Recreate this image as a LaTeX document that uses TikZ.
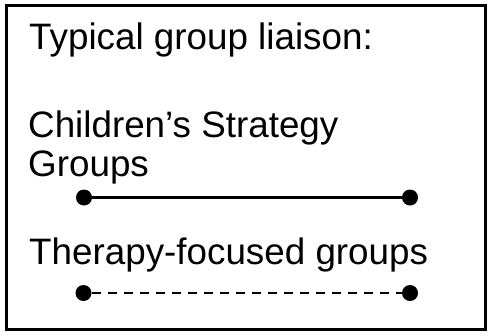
\documentclass[tikz,border=0pt]{standalone}
\usepackage{fontspec}
\setmainfont{Liberation Sans}
\begin{document}
\begin{tikzpicture}[x=1pt,y=-1pt,
  lbl/.style={anchor=base west,inner sep=0pt,align=left,
    font=\fontsize{36.8pt}{39pt}\selectfont},
  dot/.style={circle,fill=black,inner sep=0pt,minimum size=16pt},
  link/.style={line width=2.2pt},
  framebox/.style={line width=2.5pt}]
\useasboundingbox (0,0) rectangle (494,335);
\draw[framebox] (6.5,5.5) rectangle (485.5,329.5);
\node[lbl] (title) at (29,49) {Typical group liaison:};
\node[lbl] (cs) at (28,176) {Children’s Strategy\\Groups};
\node[dot] (a1) at (84,197.5) {};
\node[dot] (b1) at (410,197.5) {};
\draw[link] (a1) -- (b1);
\node[lbl] (tf) at (29,264) {Therapy-focused groups};
\node[dot] (a2) at (83.5,293) {};
\node[dot] (b2) at (410,293) {};
\draw[link,dash pattern=on 9pt off 7pt] (a2) -- (b2);
\end{tikzpicture}
\end{document}
